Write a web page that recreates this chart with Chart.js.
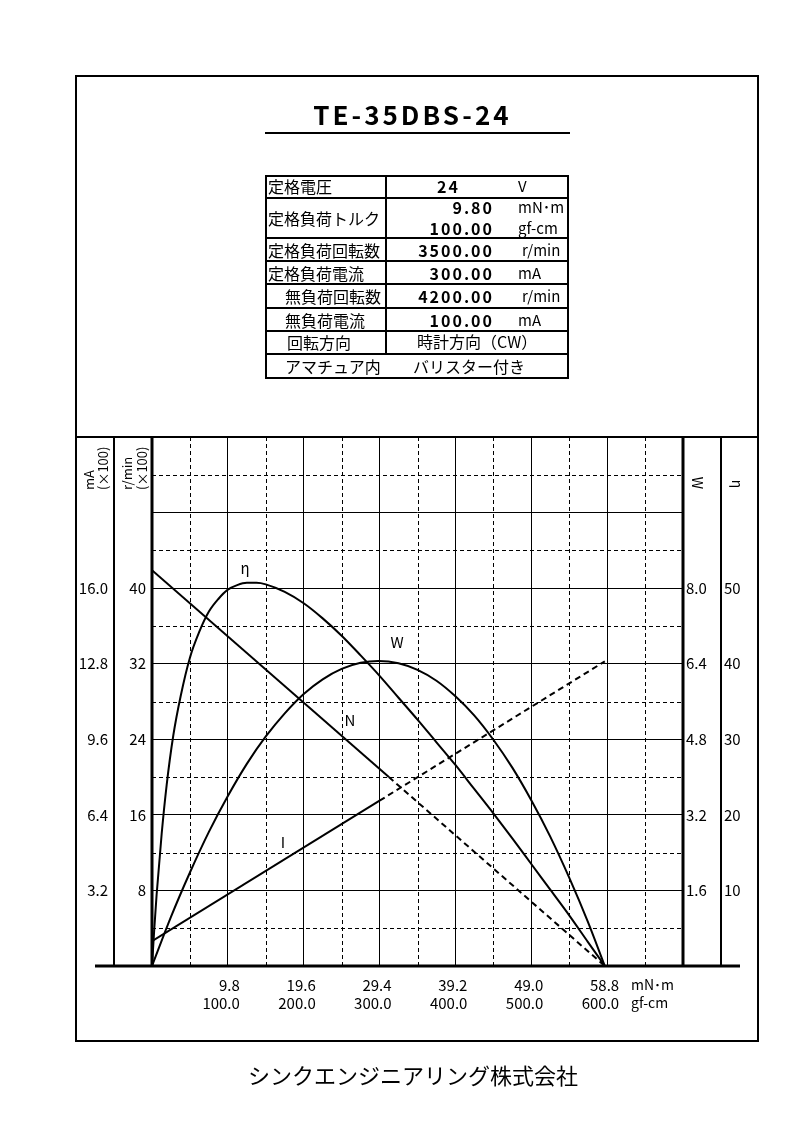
<!DOCTYPE html>
<html lang="ja">
<head>
<meta charset="utf-8">
<title>TE-35DBS-24</title>
<script src="https://cdn.jsdelivr.net/npm/chart.js@4.4.1/dist/chart.umd.min.js"></script>
<style>
  html, body { margin: 0; padding: 0; background: #fff; }
  body {
    width: 793px; height: 1122px; position: relative; overflow: hidden;
    font-family: 'Noto Sans CJK JP', sans-serif; color: #000;
  }
  #chart { position: absolute; left: 0; top: 0; }
  .frame { position: absolute; left: 75px; top: 75px; width: 684px; height: 967px;
           border: 2px solid #000; box-sizing: border-box; }
  .t { position: absolute; white-space: nowrap; font-size: 16px; line-height: 22px; }
  .num { font-weight: bold; letter-spacing: 2px; text-align: right; }
  .unit { font-size: 15px; }
  .hl { position: absolute; left: 265px; width: 304px; height: 2px; background: #000; }
  .vl { position: absolute; width: 2px; background: #000; }
  .lbl { position: absolute; font-size: 15px; line-height: 20px; width: 20px; text-align: center; }
  .rot { position: absolute; font-size: 13px; white-space: pre; text-align: left; }
</style>
</head>
<body>
<canvas id="chart" width="793" height="1122"></canvas>

<div class="frame"></div>

<!-- title -->
<div class="t" style="left:260px; width:305px; top:100px; height:32px; line-height:28px; text-align:center;
     font-size:26px; font-weight:bold; letter-spacing:3px;">TE-35DBS-24</div>
<div style="position:absolute; left:265px; top:132px; width:305px; height:2px; background:#000;"></div>

<!-- spec table -->
<div style="position:absolute; left:265px; top:175px; width:304px; height:204px; border:2px solid #000; box-sizing:border-box;"></div>
<div class="hl" style="top:197px"></div>
<div class="hl" style="top:237px"></div>
<div class="hl" style="top:260px"></div>
<div class="hl" style="top:283px"></div>
<div class="hl" style="top:307px"></div>
<div class="hl" style="top:330px"></div>
<div class="hl" style="top:353px"></div>
<div class="vl" style="left:385px; top:175px; height:180px"></div>

<div class="t" style="left:268px; top:175px">定格電圧</div>
<div class="t" style="left:268px; top:207px">定格負荷トルク</div>
<div class="t" style="left:268px; top:239px">定格負荷回転数</div>
<div class="t" style="left:268px; top:262px">定格負荷電流</div>
<div class="t" style="left:285px; top:285px">無負荷回転数</div>
<div class="t" style="left:285px; top:309px">無負荷電流</div>
<div class="t" style="left:287px; top:331px">回転方向</div>
<div class="t" style="left:285px; top:355px">アマチュア内</div>

<div class="t num" style="right:333px; top:175px">24</div>
<div class="t num" style="right:299px; top:196px">9.80</div>
<div class="t num" style="right:299px; top:217px">100.00</div>
<div class="t num" style="right:299px; top:239px">3500.00</div>
<div class="t num" style="right:299px; top:262px">300.00</div>
<div class="t num" style="right:299px; top:285px">4200.00</div>
<div class="t num" style="right:299px; top:309px">100.00</div>

<div class="t unit" style="left:518px; top:175px">V</div>
<div class="t unit" style="left:518px; top:196px">mN･m</div>
<div class="t unit" style="left:518px; top:217px">gf-cm</div>
<div class="t unit" style="left:522px; top:239px">r/min</div>
<div class="t unit" style="left:518px; top:262px">mA</div>
<div class="t unit" style="left:522px; top:285px">r/min</div>
<div class="t unit" style="left:518px; top:309px">mA</div>

<div class="t" style="left:417px; top:330px">時計方向（CW）</div>
<div class="t" style="left:413px; top:355px">バリスター付き</div>

<!-- axis titles -->
<div class="rot" style="left:71px; top:451px; width:50px; height:28px; line-height:14px; transform:rotate(-90deg);">mA
(×100)</div>
<div class="rot" style="left:109px; top:450px; width:50px; height:30px; line-height:15px; transform:rotate(-90deg);">r/min
(×100)</div>
<div class="lbl" style="left:688px; top:473px; font-size:14px; transform:rotate(90deg);">W</div>
<div class="lbl" style="left:728px; top:474px; font-size:14px; transform:rotate(90deg);">η</div>

<!-- curve labels -->
<div class="lbl" style="left:235px; top:558px">η</div>
<div class="lbl" style="left:387px; top:632px">W</div>
<div class="lbl" style="left:340px; top:710px">N</div>
<div class="lbl" style="left:273px; top:832px">I</div>

<!-- x unit -->
<div class="t" style="left:631px; top:975px; font-size:14px; line-height:18px;">mN･m<br>gf-cm</div>

<!-- maker -->
<div class="t" style="left:248px; top:1061px; font-size:22px; line-height:26px;">シンクエンジニアリング株式会社</div>

<script>
// axis ticks
const torqueTicks = [0, 9.8, 19.6, 29.4, 39.2, 49.0, 58.8, 68.6];
const torqueLabels = ['', '9.8', '19.6', '29.4', '39.2', '49.0', '58.8', ''];
const gfcmLabels = ['', '100.0', '200.0', '300.0', '400.0', '500.0', '600.0', ''];
const torqueMinor = [4.9, 14.7, 24.5, 34.3, 44.1, 53.9, 63.7];

const speedTicks = [0, 8, 16, 24, 32, 40, 48, 56];
const speedLabels = ['', '8', '16', '24', '32', '40', '', ''];
const speedMinor = [4, 12, 20, 28, 36, 44, 52];

const currentTicks = [0, 3.2, 6.4, 9.6, 12.8, 16.0, 19.2, 22.4];
const currentLabels = ['', '3.2', '6.4', '9.6', '12.8', '16.0', '', ''];

const powerTicks = [0, 1.6, 3.2, 4.8, 6.4, 8.0, 9.6, 11.2];
const powerLabels = ['', '1.6', '3.2', '4.8', '6.4', '8.0', '', ''];

const effTicks = [0, 10, 20, 30, 40, 50, 60, 70];
const effLabels = ['', '10', '20', '30', '40', '50', '', ''];

// series (torque in mN·m)
const speedTorque = [0, 30.6, 58.5];
const speedValues = [41.9, 20.0, 0];          // r/min x100
const speedDashFrom = 30.6;

const currentTorque = [0, 29.4, 58.5];
const currentValues = [1.05, 7.0, 12.9];      // mA x100
const currentDashFrom = 29.4;

const powerTorque = [0, 2.45, 4.9, 7.35, 9.8, 12.25, 14.7, 17.15, 19.6, 22.05, 24.5, 26.95, 29.25,
                     31.85, 34.3, 36.75, 39.2, 41.65, 44.1, 46.55, 49.0, 51.45, 53.9, 56.3, 58.5];
const powerValues = [0, 1.04, 1.98, 2.84, 3.6, 4.28, 4.86, 5.35, 5.76, 6.07, 6.29, 6.42, 6.46,
                     6.41, 6.27, 6.04, 5.71, 5.3, 4.79, 4.2, 3.51, 2.74, 1.87, 0.94, 0];

const effTorque = [0, 0.3, 0.6, 1.25, 1.9, 2.75, 3.7, 4.9, 6.1, 7.35, 8.6, 9.8, 11.0, 12.25, 13.5, 14.7,
                   17.15, 19.6, 22.05, 24.5, 26.95, 29.4, 31.85, 34.3, 36.75, 39.2, 41.65, 44.1, 46.55,
                   49.0, 51.45, 53.9, 56.3, 58.5];
const effValues = [0, 5, 9.5, 17.5, 24, 30.5, 35.7, 40.8, 44.2, 46.9, 48.6, 49.8, 50.4, 50.7, 50.7, 50.5,
                   49.5, 48.0, 46.0, 43.7, 41.1, 38.4, 35.5, 32.6, 29.6, 26.6, 23.4, 20.2, 16.9,
                   13.5, 10.1, 6.7, 3.2, 0];

const toPts = (xs, ys) => xs.map((x, i) => ({ x: x, y: ys[i] }));
const fixTicks = (list) => (scale) => { scale.ticks = list.map(v => ({ value: v })); };
const fixWidth = (w) => (scale) => { scale.width = w; };

function line(ctx, x1, y1, x2, y2) {
    ctx.beginPath();
    ctx.moveTo(x1, y1);
    ctx.lineTo(x2, y2);
    ctx.stroke();
}

// dashed minor grid, column rules and the heavy base line
const framePlugin = {
    id: 'frame',
    beforeDatasetsDraw(chart) {
        const { ctx, chartArea: a, scales } = chart;
        ctx.save();
        ctx.strokeStyle = '#000';
        ctx.lineWidth = 1;
        ctx.setLineDash([4, 3]);
        torqueMinor.forEach(v => {
            const x = Math.round(scales.x.getPixelForValue(v)) + 0.5;
            line(ctx, x, a.top, x, a.bottom);
        });
        speedMinor.forEach(v => {
            const y = Math.round(scales.yN.getPixelForValue(v)) + 0.5;
            line(ctx, a.left, y, a.right, y);
        });
        ctx.restore();
    },
    afterDraw(chart) {
        const { ctx, chartArea: a, scales } = chart;
        ctx.save();
        ctx.strokeStyle = '#000';
        ctx.lineWidth = 2;
        line(ctx, 76, a.top, 758, a.top);
        line(ctx, scales.yI.right, a.top, scales.yI.right, a.bottom);
        line(ctx, scales.yW.right, a.top, scales.yW.right, a.bottom);
        ctx.lineWidth = 3;
        line(ctx, a.left, a.top, a.left, a.bottom);
        line(ctx, a.right, a.top, a.right, a.bottom);
        line(ctx, 95, a.bottom, 740, a.bottom);
        ctx.restore();
    }
};

Chart.defaults.font.family = "'Noto Sans CJK JP', sans-serif";
Chart.defaults.font.size = 15;
Chart.defaults.color = '#000';

const solidGrid = { color: '#000', lineWidth: 1, drawTicks: false };
const sideGrid = { drawOnChartArea: false, drawTicks: false };
const noBorder = { display: false };

new Chart(document.getElementById('chart'), {
    type: 'line',
    data: {
        datasets: [
            {
                label: 'N', data: toPts(speedTorque, speedValues), yAxisID: 'yN',
                segment: { borderDash: c => c.p0.parsed.x >= speedDashFrom - 0.01 ? [6, 4] : undefined }
            },
            {
                label: 'I', data: toPts(currentTorque, currentValues), yAxisID: 'yI',
                segment: { borderDash: c => c.p0.parsed.x >= currentDashFrom - 0.01 ? [6, 4] : undefined }
            },
            { label: 'W', data: toPts(powerTorque, powerValues), yAxisID: 'yW', cubicInterpolationMode: 'monotone' },
            { label: 'η', data: toPts(effTorque, effValues), yAxisID: 'yE', cubicInterpolationMode: 'monotone' }
        ]
    },
    options: {
        responsive: false,
        animation: false,
        layout: { padding: { left: 76, right: 34, top: 437, bottom: 76 } },
        elements: {
            line: { borderColor: '#000', borderWidth: 2, fill: false, tension: 0 },
            point: { radius: 0, hoverRadius: 0 }
        },
        plugins: { legend: { display: false }, tooltip: { enabled: false } },
        scales: {
            x: {
                type: 'linear', position: 'bottom',
                min: 0, max: torqueTicks[torqueTicks.length - 1],
                afterBuildTicks: fixTicks(torqueTicks),
                afterFit: (s) => { s.height = 80; },
                grid: solidGrid, border: noBorder,
                ticks: {
                    autoSkip: false, maxRotation: 0, align: 'end', labelOffset: 12, padding: 10,
                    callback: (v, i) => torqueLabels[i] ? [torqueLabels[i], gfcmLabels[i]] : ''
                }
            },
            yN: {
                type: 'linear', position: 'left', weight: 0,
                min: 0, max: speedTicks[speedTicks.length - 1],
                afterBuildTicks: fixTicks(speedTicks), afterFit: fixWidth(38),
                grid: solidGrid, border: noBorder,
                ticks: { padding: 6, callback: (v, i) => speedLabels[i] }
            },
            yI: {
                type: 'linear', position: 'left', weight: 1,
                min: 0, max: currentTicks[currentTicks.length - 1],
                afterBuildTicks: fixTicks(currentTicks), afterFit: fixWidth(38),
                grid: sideGrid, border: noBorder,
                ticks: { padding: 6, callback: (v, i) => currentLabels[i] }
            },
            yW: {
                type: 'linear', position: 'right', weight: 0,
                min: 0, max: powerTicks[powerTicks.length - 1],
                afterBuildTicks: fixTicks(powerTicks), afterFit: fixWidth(38),
                grid: sideGrid, border: noBorder,
                ticks: { padding: 3, callback: (v, i) => powerLabels[i] }
            },
            yE: {
                type: 'linear', position: 'right', weight: 1,
                min: 0, max: effTicks[effTicks.length - 1],
                afterBuildTicks: fixTicks(effTicks), afterFit: fixWidth(38),
                grid: sideGrid, border: noBorder,
                ticks: { padding: 3, callback: (v, i) => effLabels[i] }
            }
        }
    },
    plugins: [framePlugin]
});
</script>
</body>
</html>
